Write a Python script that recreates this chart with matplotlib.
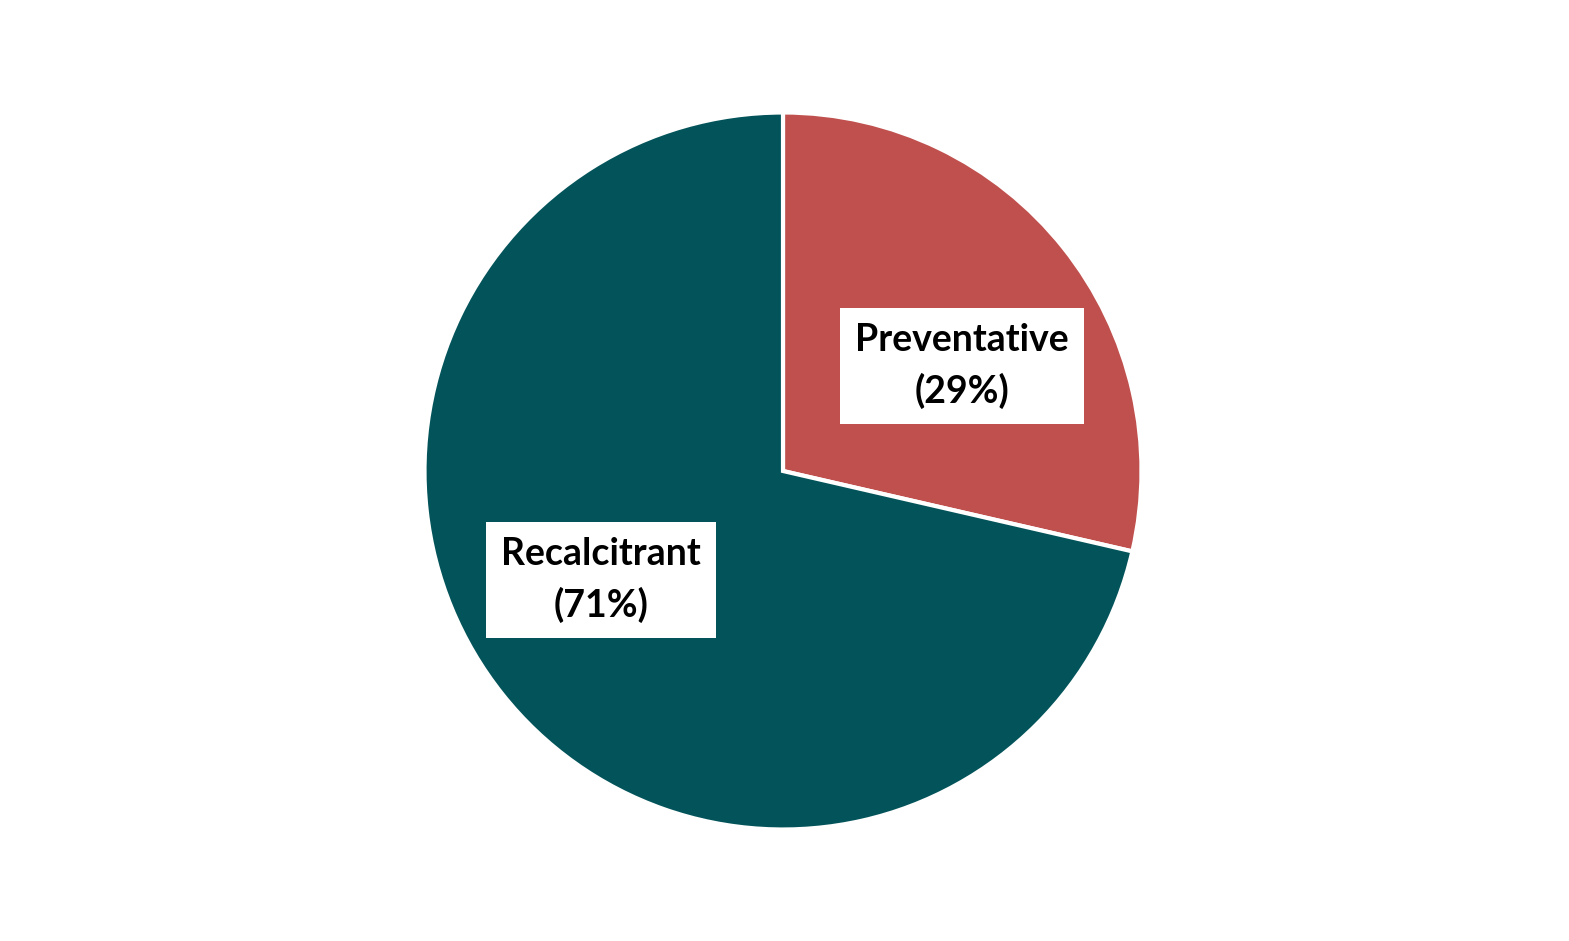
import matplotlib
matplotlib.use("Agg")
from matplotlib import pyplot as plt

categories = ["Preventative", "Recalcitrant"]
shares = [28.6, 71.4]
colors = ["#C0504D", "#03545A"]

fig = plt.figure(figsize=(15.69, 9.41), dpi=100)
ax = fig.add_axes([0, 0, 1, 1])

wedges, _ = ax.pie(shares, colors=colors, startangle=90, counterclock=False,
                   center=(783, 470), radius=358.5, explode=[0.015, 0],
                   wedgeprops=dict(edgecolor="white", linewidth=3))
# pie resets the limits, so put pixel space back afterwards
ax.set_xlim(0, 1569)
ax.set_ylim(0, 941)
ax.axis("off")

# label spots, pixel space
label_pos = [(962, 575), (601, 361)]
for name, val, (x, y) in zip(categories, shares, label_pos):
    ax.text(x, y, f"{name}\n({val:.0f}%)", ha="center", va="center",
            fontsize=27, fontweight="bold", family="Lato", linespacing=1.5,
            bbox=dict(boxstyle="square,pad=0.4", fc="white", ec="none"))

fig.savefig("out.png", dpi=100)
